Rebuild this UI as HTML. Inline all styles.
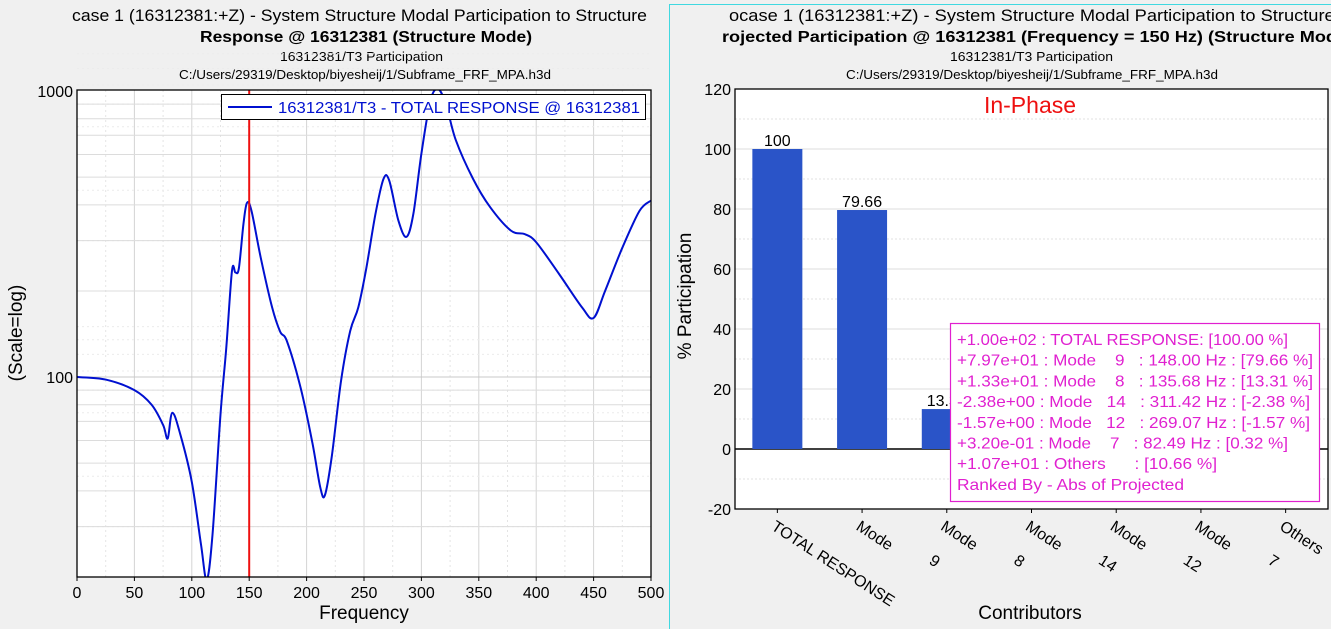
<!DOCTYPE html>
<html><head><meta charset="utf-8"><style>
html,body{margin:0;padding:0;background:#f0f0f0;}
svg{display:block;font-family:"Liberation Sans",sans-serif;}
</style></head><body>
<svg id="chart" width="1331" height="629" viewBox="0 0 1331 629" xmlns="http://www.w3.org/2000/svg">
<rect x="0" y="0" width="1331" height="629" fill="#f0f0f0"/>
<defs>
<clipPath id="leftPanel"><rect x="0" y="0" width="668" height="629"/></clipPath>
<clipPath id="rightPanel"><rect x="670" y="0" width="661" height="629"/></clipPath>
<clipPath id="leftPlot"><rect x="77" y="90" width="574" height="487"/></clipPath>
</defs>
<rect x="669.5" y="4.5" width="665" height="630" fill="none" stroke="#40d8e0" stroke-width="1"/>

<g clip-path="url(#leftPanel)">
<text x="72" y="21" font-size="17" textLength="575" lengthAdjust="spacingAndGlyphs">case 1 (16312381:+Z) - System Structure Modal Participation to Structure</text>
<text x="200" y="42" font-size="16" font-weight="bold" textLength="332" lengthAdjust="spacingAndGlyphs">Response @ 16312381 (Structure Mode)</text>
<text x="280" y="61" font-size="13" textLength="163" lengthAdjust="spacingAndGlyphs">16312381/T3 Participation</text>
<text x="179" y="79" font-size="13" textLength="372" lengthAdjust="spacingAndGlyphs">C:/Users/29319/Desktop/biyesheij/1/Subframe_FRF_MPA.h3d</text>
</g>
<g clip-path="url(#rightPanel)">
<text x="729" y="21" font-size="17" textLength="625" lengthAdjust="spacingAndGlyphs">ocase 1 (16312381:+Z) - System Structure Modal Participation to Structure G</text>
<text x="722" y="42" font-size="16" font-weight="bold" textLength="615" lengthAdjust="spacingAndGlyphs">rojected Participation @ 16312381 (Frequency = 150 Hz) (Structure Mod</text>
<text x="950" y="61" font-size="13" textLength="163" lengthAdjust="spacingAndGlyphs">16312381/T3 Participation</text>
<text x="846" y="79" font-size="13" textLength="372" lengthAdjust="spacingAndGlyphs">C:/Users/29319/Desktop/biyesheij/1/Subframe_FRF_MPA.h3d</text>
</g>

<g id="left"></g>
<g id="right"></g>
</svg>
<script>
// ---------- Left chart data ----------
const freqs = [0,25,50,65,75,79,83,90,100,108,113,118,125,130,135,138,141,145,148,152,160,170,177,183,195,205,212,216,222,230,238,245,252,260,267,272,280,287,293,300,308,315,322,330,345,360,378,390,400,420,440,450,460,475,490,500];
const response = [100,98,90,80,68,61,75,63,43,26,19.6,28,74,126,235,232,240,343,406,381,262,175,144,133,91,59,41,38.7,53,97,145,175,240,372,493,486,352,309,372,604,930,1013,880,673,493,392,325,316,296,229,175,161,200,283,381,414];
const xTicks = [0,50,100,150,200,250,300,350,400,450,500];
const yTickLabels = [100,1000];
const markerFreq = [150];
const legendLabel = ["16312381/T3 - TOTAL RESPONSE @ 16312381"];

// ---------- Right chart data ----------
const categories = [["TOTAL RESPONSE"],["Mode","9"],["Mode","8"],["Mode","14"],["Mode","12"],["Mode","7"],["Others"]];
const participation = [100,79.66,13.31,-2.38,-1.57,0.32,10.66];
const barLabels = ["100","79.66","13.31","-2.38","-1.57","0.32","10.66"];
const pTicks = [-20,0,20,40,60,80,100,120];
const legendLines = ["+1.00e+02 : TOTAL RESPONSE: [100.00 %]","+7.97e+01 : Mode    9   : 148.00 Hz : [79.66 %]","+1.33e+01 : Mode    8   : 135.68 Hz : [13.31 %]","-2.38e+00 : Mode   14   : 311.42 Hz : [-2.38 %]","-1.57e+00 : Mode   12   : 269.07 Hz : [-1.57 %]","+3.20e-01 : Mode    7   : 82.49 Hz : [0.32 %]","+1.07e+01 : Others      : [10.66 %]","Ranked By - Abs of Projected"];

const NS="http://www.w3.org/2000/svg";
function mk(tag, attrs, parent, text){const e=document.createElementNS(NS,tag);for(const k in attrs)e.setAttribute(k,attrs[k]);if(text!==undefined)e.textContent=text;parent.appendChild(e);return e;}

// ===== Left =====
(function(){
const g=document.getElementById('left');
const L=77,R=651,T=90,B=577;
const yMin=Math.log10(20), yMax=Math.log10(1000)+1/286;
const xs=f=>L+(f-0)/(500-0)*(R-L);
const ys=v=>B-(Math.log10(v)-yMin)/(yMax-yMin)*(B-T);
const bg=mk('rect',{x:L,y:T,width:R-L,height:B-T,fill:'#fff'},g);


// minor vertical
for(let f=25;f<500;f+=50){const l=mk('line',{x1:xs(f),x2:xs(f),y1:T,y2:B,stroke:'#e4e4e4','stroke-dasharray':'2,3'},g);

}
xTicks.forEach(f=>{const l=mk('line',{x1:xs(f),x2:xs(f),y1:T,y2:B,stroke:'#d4d4d4'},g);

});
[10,100].forEach(d=>{for(let m=1;m<=9;m++){const v=d*m;if(v<20||v>1000)continue;const l=mk('line',{x1:L,x2:R,y1:ys(v),y2:ys(v),stroke:m===1?'#c8c8c8':'#dcdcdc'},g);


const l2=mk('line',{x1:L,x2:R,y1:ys(v*1.5),y2:ys(v*1.5),stroke:'#ececec','stroke-dasharray':'2,3'},g);

}});
// curve
const pts=freqs.map((f,i)=>[xs(f),ys(response[i])]);
let d=`M${pts[0][0]},${pts[0][1]}`;
for(let i=0;i<pts.length-1;i++){const p0=pts[Math.max(0,i-1)],p1=pts[i],p2=pts[i+1],p3=pts[Math.min(pts.length-1,i+2)];
const c1=[p1[0]+(p2[0]-p0[0])/6,p1[1]+(p2[1]-p0[1])/6],c2=[p2[0]-(p3[0]-p1[0])/6,p2[1]-(p3[1]-p1[1])/6];
d+=` C${c1[0]},${c1[1]} ${c2[0]},${c2[1]} ${p2[0]},${p2[1]}`;}
const cg=mk('g',{'clip-path':'url(#leftPlot)'},g);
const path=mk('path',{d:d,fill:'none',stroke:'#0010d0','stroke-width':2},cg);


markerFreq.forEach(f=>{const l=mk('line',{x1:xs(f),x2:xs(f),y1:T,y2:B,stroke:'#ee1010','stroke-width':2},cg);

});
const fr=mk('rect',{x:L,y:T,width:R-L,height:B-T,fill:'none',stroke:'#000','stroke-width':1.3},g);


xTicks.forEach(f=>{const t=mk('text',{x:xs(f),y:598,'font-size':16,'text-anchor':'middle'},g,String(f));


const tk=mk('line',{x1:xs(f),x2:xs(f),y1:B,y2:B+4,stroke:'#000'},g);

});
yTickLabels.forEach(v=>{const t=mk('text',{x:73,y:ys(v)+6,'font-size':16,'text-anchor':'end'},g,String(v));

});
const xt=mk('text',{x:364,y:619,'font-size':19,'text-anchor':'middle'},g,'Frequency');


const yt=mk('text',{x:0,y:0,'font-size':19,'text-anchor':'middle',transform:'translate(22,333) rotate(-90)'},g,'(Scale=log)');


const lg=mk('g',{},g);


mk('rect',{x:221.5,y:94.5,width:424,height:25,fill:'#fff',stroke:'#000'},lg);
mk('line',{x1:228,x2:272,y1:107,y2:107,stroke:'#0010d0','stroke-width':2},lg);
const lt=mk('text',{x:278,y:113,'font-size':16,fill:'#0010d0',textLength:362,lengthAdjust:'spacingAndGlyphs'},lg,legendLabel[0]);


})();

// ===== Right =====
(function(){
const g=document.getElementById('right');
const L=735,R=1328,T=89,B=509;
const n=categories.length, band=(R-L)/n;
const xc=i=>L+band*(i+0.5);
const ys=v=>B-(v-(-20))/(140)*(B-T);
const bg=mk('rect',{x:L,y:T,width:R-L,height:B-T,fill:'#fff'},g);


for(let v=-10;v<120;v+=20){const l=mk('line',{x1:L,x2:R,y1:ys(v),y2:ys(v),stroke:'#e0e0e0','stroke-dasharray':'2,2'},g);

}
pTicks.forEach(v=>{const l=mk('line',{x1:L,x2:R,y1:ys(v),y2:ys(v),stroke:v===0?'#000':'#dcdcdc','stroke-width':v===0?1.5:1},g);


const t=mk('text',{x:731,y:ys(v)+6,'font-size':16,'text-anchor':'end'},g,String(v));

});
participation.forEach((v,i)=>{const y0=ys(Math.max(0,v)),y1=ys(Math.min(0,v));
const b=mk('rect',{x:xc(i)-25,y:y0,width:50,height:y1-y0,fill:'#2a54c8'},g);


const t=mk('text',{x:xc(i),y:ys(Math.max(0,v))-3,'font-size':16,'text-anchor':'middle'},g,barLabels[i]);

});
const fr=mk('rect',{x:L,y:T,width:R-L,height:B-T,fill:'none',stroke:'#000','stroke-width':1.3},g);


categories.forEach((c,i)=>{const x=xc(i);
const tk=mk('line',{x1:x,x2:x,y1:B,y2:B+4,stroke:'#000'},g);


const t=mk('text',{x:0,y:0,'font-size':16,transform:`translate(${x-7},${B+20}) rotate(33)`},g,c[0]);


if(c[1]){const t2=mk('text',{x:0,y:0,'font-size':16,transform:`translate(${x+66},${B+54}) rotate(33)`},g,c[1]);

}});
const ip=mk('text',{x:1030,y:113,'font-size':23,fill:'#ee1010','text-anchor':'middle'},g,'In-Phase');


const xt=mk('text',{x:1030,y:619,'font-size':19,'text-anchor':'middle'},g,'Contributors');


const yt=mk('text',{x:0,y:0,'font-size':19,'text-anchor':'middle',transform:'translate(691,296) rotate(-90)'},g,'% Participation');


const lg=mk('g',{},g);


mk('rect',{x:950.5,y:323.5,width:369,height:178,fill:'#fff',stroke:'#e020d0','stroke-width':1.2},lg);
const widths=[331,356,356,353,353,331,260,227];
legendLines.forEach((s,i)=>{const t=mk('text',{x:957,y:345+i*20.7,'font-size':16,fill:'#e020d0',textLength:widths[i],lengthAdjust:'spacingAndGlyphs','xml:space':'preserve'},lg,s);
t.setAttribute('style','white-space:pre');

});
})();
</script>
</body></html>
